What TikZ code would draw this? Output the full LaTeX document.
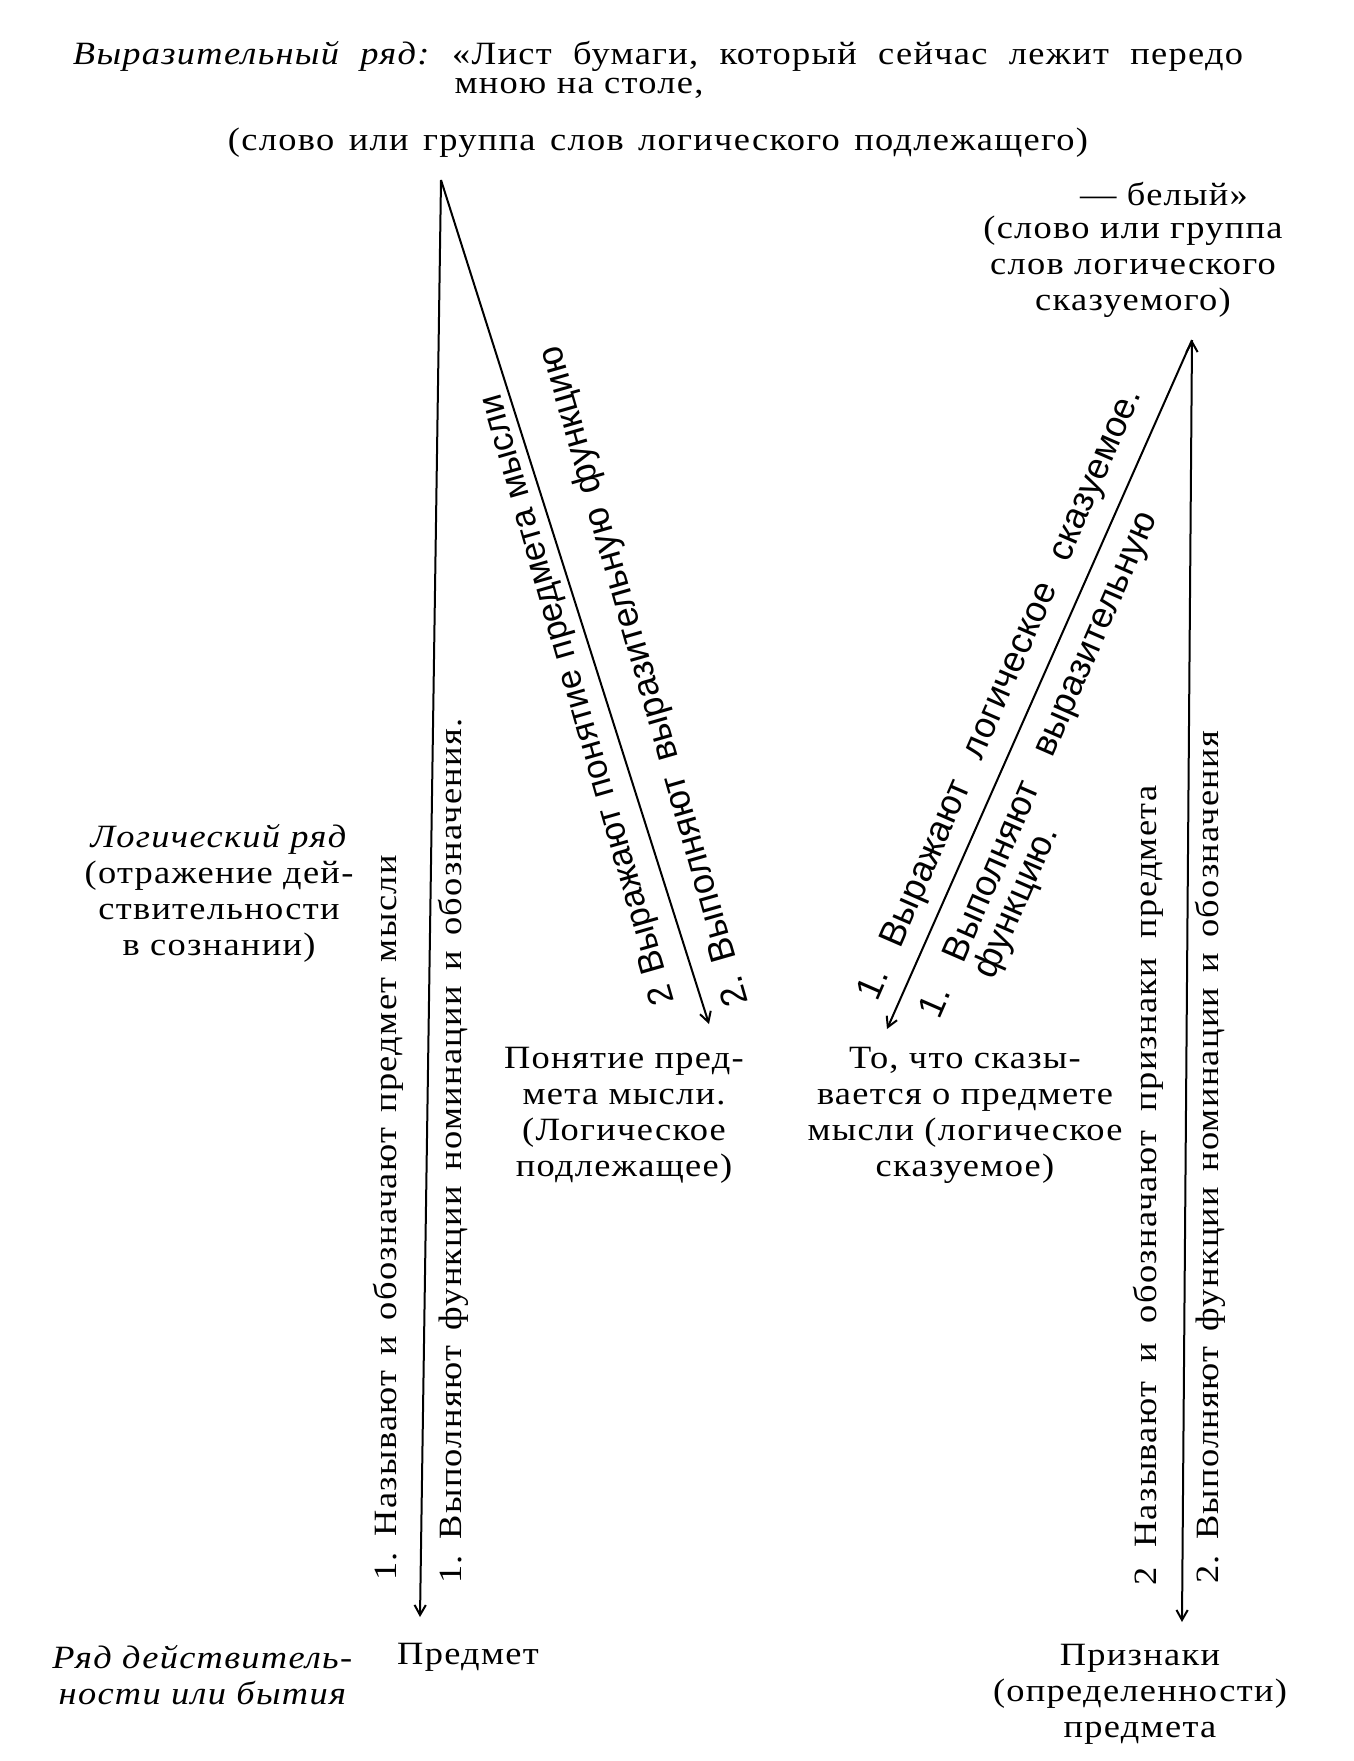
\documentclass[tikz,border=0pt]{standalone}
\usepackage{fontspec}
\setmainfont{Liberation Serif}[FakeStretch=1.12,LetterSpace=4]
\newfontfamily\diagfont{Liberation Sans}
\usepackage{tikz}
\usetikzlibrary{arrows.meta}
\tikzset{txt/.style={font=\fontsize{13}{14.4}\selectfont,align=center,inner sep=0pt},
  vert label/.style={txt,rotate=90,anchor=west},
  diag label/.style={font=\diagfont\fontsize{14.5}{16}\selectfont,inner sep=0pt,anchor=west},
  conn/.style={draw,line width=.8pt},
  >={Straight Barb[length=4pt,width=4.5pt]},}
\newcommand{\spread}[2]{\makebox[#1][s]{#2}}
\frenchspacing

\begin{document}
\begin{tikzpicture}[x=0.4pt,y=0.4pt]
    \useasboundingbox (0,0) rectangle (1354,-1761);

    % expression row
    \node[txt] (expr) at (658,-56) {\spread{468pt}{\textit{Выразительный ряд:} «Лист бумаги, который сейчас лежит передо}};
    \node[txt] (expr2) at (579,-88) {мною на столе,};
    \node[txt] (subjw) at (658,-143) {\spread{344pt}{(слово или группа слов логического подлежащего)}};
    \node[txt] (predw) at (1164,-194) {— белый»};
    \node[txt] (predw2) at (1133,-267) {(слово или группа\\слов логического\\сказуемого)};

    % logical row
    \node[txt] (logic) at (219,-893) {\textit{Логический ряд}\\(отражение дей-\\ствительности\\в сознании)};
    \node[txt] (concept) at (624,-1115) {Понятие пред-\\мета мысли.\\(Логическое\\подлежащее)};
    \node[txt] (said) at (965,-1115) {То, что сказы-\\вается о предмете\\мысли (логическое\\сказуемое)};

    % reality row
    \node[txt] (real) at (203,-1675) {\textit{Ряд действитель-}\\\textit{ности или бытия}};
    \node[txt] (object) at (468,-1657) {Предмет};
    \node[txt] (signs) at (1140,-1694) {Признаки\\(определенности)\\предмета};

    \coordinate (topL) at (441,-180);
    \coordinate (topR) at (1192,-340);
    \coordinate (endL) at (420,-1617);
    \coordinate (endC) at (709,-1024);
    \coordinate (endD) at (887,-1029);
    \coordinate (endR) at (1182,-1622);

    \path[conn,->]
    (topL) edge (endL)
    (topL) edge (endC)
    (topR) edge (endD)
    (topR) edge (endR)
    ;

    \node[vert label] (l1) at (388,-1581) {\spread{290pt}{1. Называют и обозначают предмет мысли}};
    \node[vert label] (l2) at (453,-1584) {\spread{346pt}{1. Выполняют функции номинации и обозначения.}};
    \node[vert label] (r1) at (1148,-1586) {\spread{320pt}{2 Называют и обозначают признаки предмета}};
    \node[vert label] (r2) at (1210,-1584) {\spread{341pt}{2. Выполняют функции номинации и обозначения}};

    \node[diag label,rotate=106,font=\diagfont\fontsize{14}{16}\selectfont] (d1) at (666,-1004) {\spread{253pt}{2 Выражают понятие предмета мысли}};
    \node[diag label,rotate=106] (d2) at (740,-1006) {\spread{274pt}{2. Выполняют выразительную функцию}};
    \node[diag label,rotate=66.5] (e1) at (869,-999) {\spread{265pt}{1. Выражают логическое сказуемое.}};
    \node[diag label,rotate=66.5] (e2) at (931,-1017) {\spread{219pt}{1. Выполняют выразительную}};
    \node[diag label,rotate=66.5] (e3) at (985,-977) {функцию.};
\end{tikzpicture}
\end{document}
